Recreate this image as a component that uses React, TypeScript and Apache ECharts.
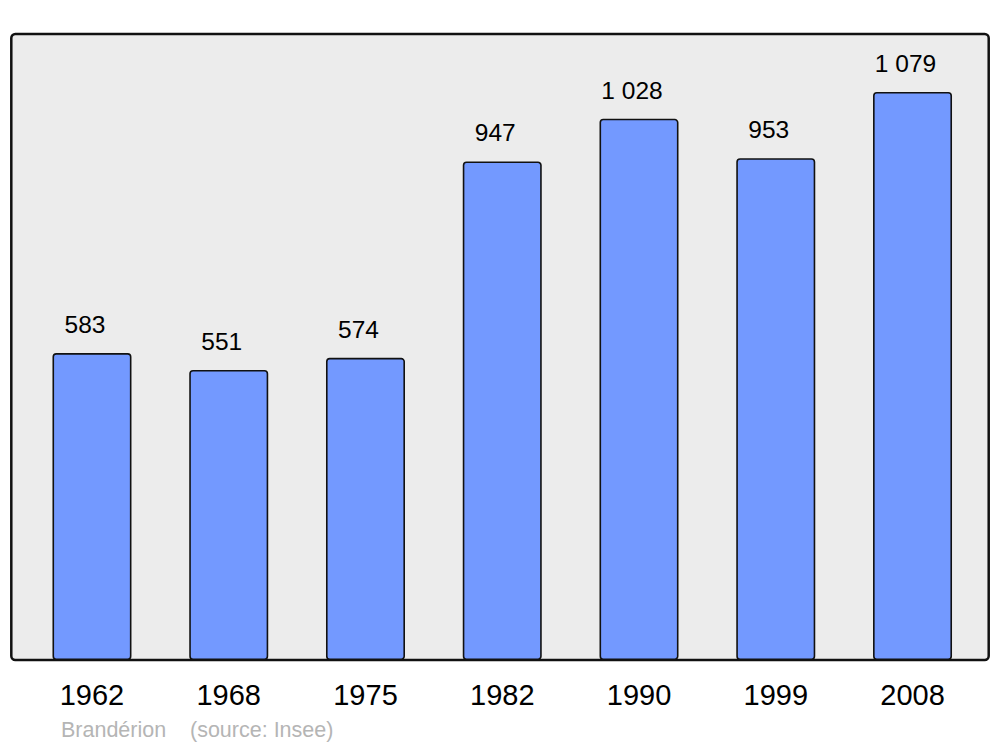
import React, { useEffect, useRef } from "react";
import * as echarts from "echarts";

const years = ["1962", "1968", "1975", "1982", "1990", "1999", "2008"];
const population = [583, 551, 574, 947, 1028, 953, 1079];
const sourceName = "Brandérion";
const sourceNote = "(source: Insee)";

const fmt = (v: number) => String(v).replace(/\B(?=(\d{3})+(?!\d))/g, " ");

export default function App() {
  const ref = useRef<HTMLDivElement>(null);
  useEffect(() => {
    if (!ref.current) return;
    const chart = echarts.init(ref.current, null, { renderer: "svg" });
    chart.setOption({
      animation: false,
      backgroundColor: "#ffffff",
      textStyle: { fontFamily: "Liberation Sans" },
      graphic: [
        {
          type: "rect",
          z: -10,
          shape: { x: 11.3, y: 34, width: 977.4, height: 626, r: 4 },
          style: { fill: "#ececec", stroke: "#111111", lineWidth: 2.5 },
          silent: true,
        },
        {
          type: "text",
          x: 61,
          y: 730,
          style: {
            text: sourceName,
            fill: "#b5b5b5",
            fontSize: 21.5,
            fontFamily: "Liberation Sans",
            verticalAlign: "middle",
          },
        },
        {
          type: "text",
          x: 190,
          y: 730,
          style: {
            text: sourceNote,
            fill: "#b5b5b5",
            fontSize: 21.5,
            fontFamily: "Liberation Sans",
            verticalAlign: "middle",
          },
        },
      ],
      grid: { left: 23.6, top: 34, width: 957.3, height: 626 },
      xAxis: {
        type: "category",
        data: years,
        axisLine: { show: false },
        axisTick: { show: false },
        axisLabel: {
          color: "#000000",
          fontSize: 29,
          margin: 20,
          fontFamily: "Liberation Sans",
        },
      },
      yAxis: {
        type: "value",
        min: 0,
        max: 1189,
        show: false,
        splitLine: { show: false },
      },
      series: [
        {
          type: "bar",
          data: population,
          barWidth: 79,
          itemStyle: {
            color: "#7399ff",
            borderColor: "#111111",
            borderWidth: 1.6,
            borderRadius: 3,
          },
          label: {
            show: true,
            position: "top",
            distance: 16,
            offset: [-7, 0],
            color: "#000000",
            fontSize: 24.5,
            fontFamily: "Liberation Sans",
            formatter: (p: any) => fmt(p.value),
          },
        },
      ],
    });
    return () => chart.dispose();
  }, []);
  return <div ref={ref} style={{ width: 1000, height: 747, position: "absolute", left: 0, top: 0 }} />;
}
